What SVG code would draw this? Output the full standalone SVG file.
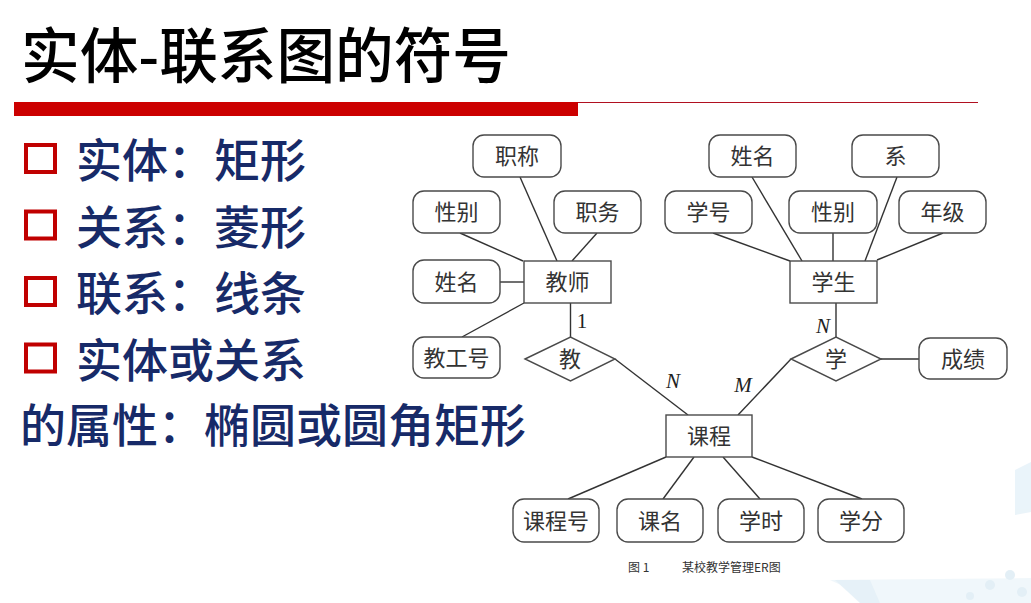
<svg xmlns="http://www.w3.org/2000/svg" width="1031" height="603" viewBox="0 0 1031 603">
<style>
.title{font-family:"Noto Sans CJK SC","Liberation Sans",sans-serif;font-size:60px;font-weight:500;fill:#000}
.bul{font-family:"Noto Sans CJK SC","Liberation Sans",sans-serif;font-size:46px;font-weight:500;fill:#172a68}
.box{fill:#fff;stroke:#4a4a4a;stroke-width:1.4}
.lbl{font-family:"Noto Sans CJK SC",sans-serif;font-size:22px;fill:#333;text-anchor:middle}
.card{font-family:"Liberation Serif",serif;font-size:21px;fill:#222;text-anchor:middle}
.it{font-style:italic}
.cap{font-family:"Noto Sans CJK SC",sans-serif;font-size:12px;fill:#333}
#connectors line{stroke:#333;stroke-width:1.4}
</style>
<rect width="1031" height="603" fill="#fff"/>
<g id="decor" opacity="0.5">
<polygon points="1015,470 1031,462 1031,512 1015,515" fill="#d6eaf5"/>
<polygon points="830,580 1031,578 1031,603 880,603" fill="#e3f1f8"/>
<polygon points="835,580 870,580 880,603 860,603" fill="#cfe5f2"/>
<circle cx="990" cy="585" r="5" fill="#c9e0ee"/>
<circle cx="1010" cy="575" r="5" fill="#c9e0ee"/>
<circle cx="1022" cy="592" r="5" fill="#c9e0ee"/>
<circle cx="970" cy="596" r="4" fill="#c9e0ee"/>
</g>
<g id="header">
<text class="title" x="21" y="78" textLength="490" lengthAdjust="spacingAndGlyphs">实体-联系图的符号</text>
<rect x="14" y="102" width="564" height="14" fill="#cc0000"/>
<line x1="578" y1="102.5" x2="978" y2="102.5" stroke="#b01020" stroke-width="1.2"/>
</g>
<g id="bullets">
<g fill="none" stroke="#c00000" stroke-width="4">
<rect x="26" y="145" width="29" height="27"/>
<rect x="26" y="211.5" width="29" height="27"/>
<rect x="26" y="278" width="29" height="27"/>
<rect x="26" y="344.5" width="29" height="27"/>
</g>
<text class="bul" x="76" y="177">实体：矩形</text>
<text class="bul" x="76" y="243.5">关系：菱形</text>
<text class="bul" x="76" y="310">联系：线条</text>
<text class="bul" x="76" y="376.5">实体或关系</text>
<text class="bul" x="20" y="442">的属性：椭圆或圆角矩形</text>
</g>
<g id="connectors">
<line x1="460" y1="233" x2="523" y2="261"/>
<line x1="520" y1="177" x2="557" y2="261"/>
<line x1="597" y1="233" x2="572" y2="261"/>
<line x1="500" y1="282" x2="524" y2="282"/>
<line x1="462" y1="337" x2="524" y2="303"/>
<line x1="570.5" y1="303" x2="570.5" y2="337"/>
<line x1="615" y1="359" x2="688" y2="415"/>
<line x1="713" y1="233" x2="790" y2="261"/>
<line x1="752" y1="177" x2="802" y2="261"/>
<line x1="833" y1="233" x2="833" y2="261"/>
<line x1="897" y1="177" x2="865" y2="261"/>
<line x1="943" y1="233" x2="877" y2="260"/>
<line x1="836" y1="303" x2="836" y2="337"/>
<line x1="881" y1="359" x2="919" y2="359"/>
<line x1="791" y1="359" x2="738" y2="415"/>
<line x1="666" y1="457" x2="568" y2="499"/>
<line x1="694" y1="457" x2="663" y2="499"/>
<line x1="723" y1="457" x2="760" y2="499"/>
<line x1="752" y1="457" x2="862" y2="499"/>
<text class="card" x="582" y="328">1</text>
<text class="card it" x="673" y="388">N</text>
<text class="card it" x="743" y="392">M</text>
<text class="card it" x="823" y="333">N</text>
</g>
<g id="n_zhicheng"><rect class="box" x="473" y="135" width="88" height="42" rx="11"/><text class="lbl" x="517" y="164">职称</text></g>
<g id="n_xingbie_t"><rect class="box" x="413" y="191" width="87" height="42" rx="11"/><text class="lbl" x="456.5" y="220">性别</text></g>
<g id="n_zhiwu"><rect class="box" x="554" y="191" width="87" height="42" rx="11"/><text class="lbl" x="597.5" y="220">职务</text></g>
<g id="n_xingming_t"><rect class="box" x="413" y="260" width="87" height="43" rx="11"/><text class="lbl" x="456.5" y="289.5">姓名</text></g>
<g id="n_jiaoshi"><rect class="box" x="524" y="261" width="87" height="42"/><text class="lbl" x="567.5" y="290">教师</text></g>
<g id="n_jiaogonghao"><rect class="box" x="413" y="337" width="87" height="41" rx="11"/><text class="lbl" x="456.5" y="365.5">教工号</text></g>
<g id="n_jiao"><polygon class="box" points="525,359 570.5,337 615,359 570.5,381"/><text class="lbl" x="570" y="367">教</text></g>
<g id="n_xingming_s"><rect class="box" x="709" y="135" width="87" height="42" rx="11"/><text class="lbl" x="752.5" y="164">姓名</text></g>
<g id="n_xi"><rect class="box" x="852" y="135" width="87" height="42" rx="11"/><text class="lbl" x="895.5" y="164">系</text></g>
<g id="n_xuehao"><rect class="box" x="665" y="191" width="87" height="42" rx="11"/><text class="lbl" x="708.5" y="220">学号</text></g>
<g id="n_xingbie_s"><rect class="box" x="789" y="191" width="88" height="42" rx="11"/><text class="lbl" x="833" y="220">性别</text></g>
<g id="n_nianji"><rect class="box" x="899" y="191" width="87" height="42" rx="11"/><text class="lbl" x="942.5" y="220">年级</text></g>
<g id="n_xuesheng"><rect class="box" x="790" y="261" width="87" height="42"/><text class="lbl" x="833.5" y="290">学生</text></g>
<g id="n_xue"><polygon class="box" points="791,359 836,337 881,359 836,381"/><text class="lbl" x="836" y="367">学</text></g>
<g id="n_chengji"><rect class="box" x="919" y="338" width="88" height="41" rx="11"/><text class="lbl" x="963" y="366.5">成绩</text></g>
<g id="n_kecheng"><rect class="box" x="666" y="415" width="86" height="42"/><text class="lbl" x="709" y="444">课程</text></g>
<g id="n_kechenghao"><rect class="box" x="513" y="499" width="86" height="43" rx="11"/><text class="lbl" x="556" y="528.5">课程号</text></g>
<g id="n_keming"><rect class="box" x="617" y="499" width="86" height="43" rx="11"/><text class="lbl" x="660" y="528.5">课名</text></g>
<g id="n_xueshi"><rect class="box" x="718" y="499" width="86" height="43" rx="11"/><text class="lbl" x="761" y="528.5">学时</text></g>
<g id="n_xuefen"><rect class="box" x="818" y="499" width="86" height="43" rx="11"/><text class="lbl" x="861" y="528.5">学分</text></g>
<g id="caption">
<text class="cap" x="628" y="572">图 1</text>
<text class="cap" x="682" y="572">某校教学管理ER图</text>
</g>
</svg>
